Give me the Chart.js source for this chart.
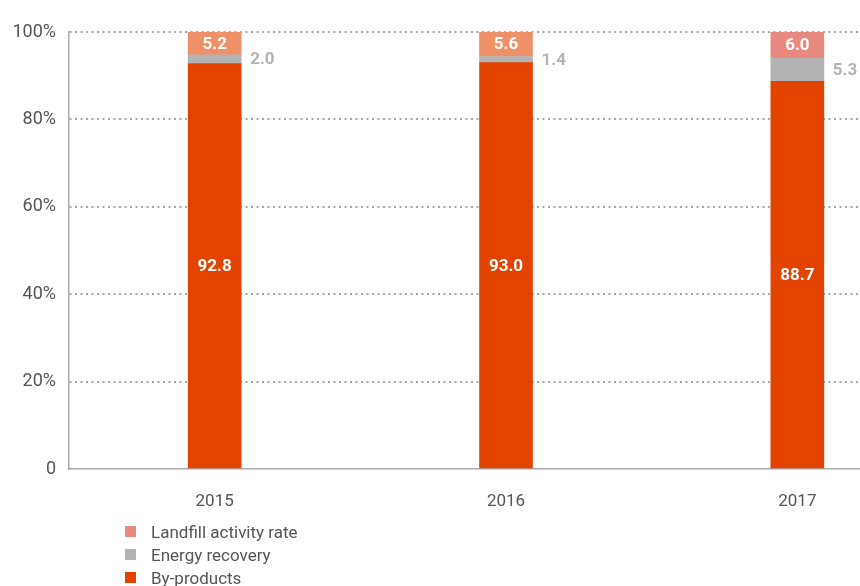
<!DOCTYPE html>
<html>
<head>
<meta charset="utf-8">
<script src="https://cdn.jsdelivr.net/npm/chart.js@4"></script>
<style>
  html, body { margin: 0; padding: 0; background: #fff; }
  #wrap { position: relative; width: 860px; height: 586px; }
  #legend { position: absolute; left: 125px; top: 520px; font: 17px 'Roboto', sans-serif; color: #555; }
  .item { height: 23px; display: flex; align-items: center; }
  .box { width: 11px; height: 11px; margin-right: 15px; }
</style>
</head>
<body>
<div id="wrap">
  <canvas id="chart" width="860" height="586"></canvas>
  <div id="legend"></div>
</div>
<script>
const years = ['2015', '2016', '2017'];
const byProducts = [92.8, 93.0, 88.7];
const energyRecovery = [2.0, 1.4, 5.3];
const landfill = [5.2, 5.6, 6.0];
const seriesNames = ['By-products', 'Energy recovery', 'Landfill activity rate'];

const FONT = "'Roboto', sans-serif";
const colors = {
  byProducts: '#E24300',
  energy: '#B3B3B3',
  landfill: ['#EE9068', '#EE9068', '#E8897F']
};

// values printed on the bars: white inside, grey to the right for energy recovery
const barLabels = {
  id: 'barLabels',
  afterDatasetsDraw(chart) {
    const ctx = chart.ctx;
    ctx.save();
    ctx.font = 'bold 17px ' + FONT;
    ctx.textBaseline = 'middle';
    chart.data.datasets.forEach((ds, di) => {
      chart.getDatasetMeta(di).data.forEach((bar, i) => {
        const text = ds.data[i].toFixed(1);
        const mid = (bar.y + bar.base) / 2 + 1;
        if (ds.labelOutside) {
          ctx.fillStyle = '#B3B3B3';
          ctx.textAlign = 'left';
          ctx.fillText(text, bar.x + bar.width / 2 + 9, mid);
        } else {
          ctx.fillStyle = '#fff';
          ctx.textAlign = 'center';
          ctx.fillText(text, bar.x, mid);
        }
      });
    });
    ctx.restore();
  }
};

const chart = new Chart(document.getElementById('chart'), {
  type: 'bar',
  data: {
    labels: years,
    datasets: [
      { label: seriesNames[0], data: byProducts, backgroundColor: colors.byProducts },
      { label: seriesNames[1], data: energyRecovery, backgroundColor: colors.energy, labelOutside: true },
      { label: seriesNames[2], data: landfill, backgroundColor: colors.landfill }
    ]
  },
  plugins: [barLabels],
  options: {
    responsive: false,
    animation: false,
    barThickness: 53,
    layout: { padding: { top: 32, left: 0, right: 0, bottom: 0 } },
    plugins: { legend: { display: false }, tooltip: { enabled: false } },
    scales: {
      x: {
        type: 'linear',
        stacked: true,
        offset: false,
        min: 2014.5,
        max: 2017.215,
        afterFit: s => { s.height = 117; },
        grid: { display: false },
        border: { display: true, color: '#AAAAAA', width: 1.5 },
        ticks: {
          stepSize: 1,
          includeBounds: false,
          autoSkip: false,
          maxRotation: 0,
          padding: 15,
          color: '#555',
          font: { family: FONT, size: 17 },
          callback: v => Math.abs(v - Math.round(v)) < 1e-6 ? String(Math.round(v)) : ''
        }
      },
      y: {
        stacked: true,
        min: 0,
        max: 100,
        afterFit: s => { s.width = 69; },
        grid: {
          drawTicks: false,
          color: ctx => ctx.tick && ctx.tick.value === 0 ? 'rgba(0,0,0,0)' : '#A6A6A6',
          lineWidth: 2
        },
        border: { display: true, color: '#AAAAAA', width: 1.5, dash: [2, 3.5] },
        ticks: {
          stepSize: 20,
          padding: 13,
          color: '#555',
          font: { family: FONT, size: 18 },
          callback: v => v === 0 ? '0' : v + '%'
        }
      }
    }
  }
});

// legend listed top-down: landfill, energy recovery, by-products
const legendEl = document.getElementById('legend');
[
  [seriesNames[2], colors.landfill[2]],
  [seriesNames[1], colors.energy],
  [seriesNames[0], colors.byProducts]
].forEach(([name, color]) => {
  const row = document.createElement('div');
  row.className = 'item';
  row.innerHTML = `<span class="box" style="background:${color}"></span><span>${name}</span>`;
  legendEl.appendChild(row);
});
</script>
</body>
</html>
